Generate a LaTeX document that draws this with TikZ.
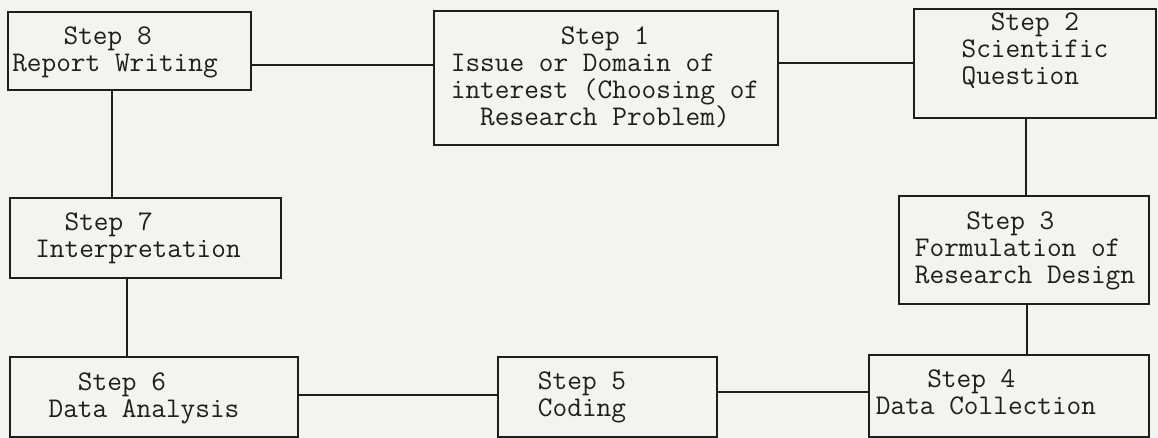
\documentclass[tikz,border=0pt]{standalone}
\usepackage{fontspec}
\definecolor{paper}{RGB}{243,243,241}
\definecolor{ink}{RGB}{30,30,30}
\tikzset{
  stepbox/.style={draw=ink, line width=1.8pt, rectangle, inner sep=0pt, anchor=north west},
  steptext/.style={text=ink, align=center, inner sep=0pt,
    font=\ttfamily\fontsize{28.5}{27}\selectfont},
  link/.style={draw=ink, line width=1.3pt}
}
\newcommand{\pad}[1]{\hphantom{#1}}
\begin{document}
\begin{tikzpicture}[x=1pt,y=-1pt]
  \fill[paper] (0,0) rectangle (1158,438);
  \useasboundingbox (0,0) rectangle (1158,438);

  % frames of the eight steps
  \node[stepbox, minimum width=243pt, minimum height=78pt]  (s8) at (7,11) {};
  \node[stepbox, minimum width=344pt, minimum height=134pt] (s1) at (433,10) {};
  \node[stepbox, minimum width=242pt, minimum height=109pt] (s2) at (913,8) {};
  \node[stepbox, minimum width=271pt, minimum height=80pt]  (s7) at (9,197) {};
  \node[stepbox, minimum width=250pt, minimum height=108pt] (s3) at (898,195) {};
  \node[stepbox, minimum width=288pt, minimum height=80pt]  (s6) at (9,356) {};
  \node[stepbox, minimum width=219pt, minimum height=80pt]  (s5) at (497,356) {};
  \node[stepbox, minimum width=280pt, minimum height=82pt]  (s4) at (868,354) {};

  % captions
  \node[steptext] (s8t) at (115,52)  {Step 8\pad{x}\\Report Writing};
  \node[steptext] (s1t) at (605,77)  {Step 1\\Issue or Domain of\pad{xxx}\\interest (Choosing of\\Research Problem)};
  \node[steptext] (s2t) at (1035,51) {Step 2\\Scientific\\Question\pad{xx}};
  \node[steptext] (s7t) at (138,238) {Step 7\pad{xxxx}\\Interpretation};
  \node[steptext] (s3t) at (1025,251) {Step 3\pad{xx}\\Formulation of\pad{x}\\Research Design};
  \node[steptext] (s6t) at (144,398) {Step 6\pad{xxx}\\Data Analysis};
  \node[steptext] (s5t) at (582,397) {Step 5\\Coding};
  \node[steptext] (s4t) at (986,392) {Step 4\pad{xx}\\Data Collection};

  % connecting lines
  \draw[link] (s8.east |- 0,65)   -- (s1.west |- 0,65);
  \draw[link] (s1.east |- 0,63)   -- (s2.west |- 0,63);
  \draw[link] (s2.south -| 1026,0) -- (s3.north -| 1026,0);
  \draw[link] (s3.south -| 1027,0) -- (s4.north -| 1027,0);
  \draw[link] (s4.west |- 0,392)  -- (s5.east |- 0,392);
  \draw[link] (s5.west |- 0,395)  -- (s6.east |- 0,395);
  \draw[link] (s6.north -| 127,0) -- (s7.south -| 127,0);
  \draw[link] (s7.north -| 112,0) -- (s8.south -| 112,0);
\end{tikzpicture}
\end{document}
